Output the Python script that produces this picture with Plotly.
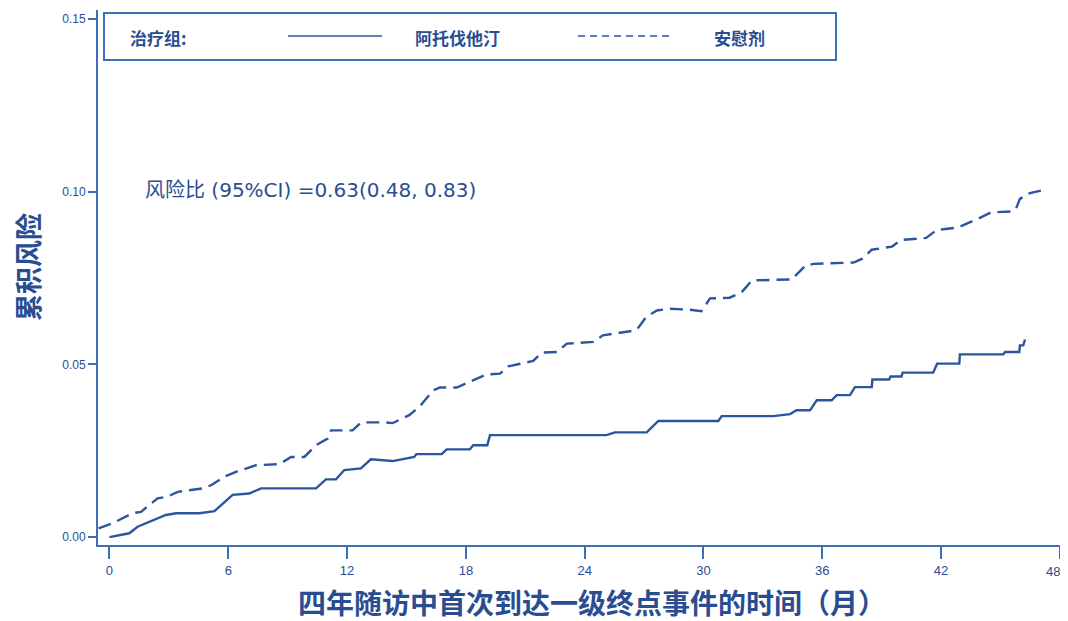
import plotly.graph_objects as go

# ---------------- data ----------------
atorva_months = [0.0, 1.0, 1.42, 2.0, 2.85, 3.36, 4.54, 5.3, 6.22, 7.06, 7.65, 10.43, 10.93,
                 11.44, 11.86, 12.7, 13.2, 14.3, 15.39, 15.5, 16.78, 17.03, 18.2, 18.37, 19.08,
                 19.22, 25.1, 25.53, 27.13, 27.72, 30.75, 30.92, 33.53, 34.37, 34.7, 35.38,
                 35.72, 36.47, 36.73, 37.4, 37.65, 38.5, 38.53, 39.38, 39.45, 40.0, 40.06,
                 41.6, 41.8, 42.92, 42.95, 45.14, 45.23, 45.95, 45.98, 46.15, 46.24]
atorva_risk = [0.0, 0.0011, 0.0030, 0.0044, 0.0064, 0.0069, 0.0069, 0.0075, 0.0122, 0.0126,
               0.0141, 0.0141, 0.0167, 0.0167, 0.0194, 0.0199, 0.0225, 0.0220, 0.0232, 0.0240,
               0.0240, 0.0254, 0.0254, 0.0266, 0.0266, 0.0295, 0.0295, 0.0303, 0.0303, 0.0336,
               0.0336, 0.0350, 0.0350, 0.0356, 0.0367, 0.0367, 0.0396, 0.0396, 0.0411, 0.0411,
               0.0434, 0.0434, 0.0456, 0.0456, 0.0465, 0.0465, 0.0476, 0.0476, 0.0502, 0.0502,
               0.0529, 0.0529, 0.0536, 0.0536, 0.0555, 0.0555, 0.0572]

placebo_months = [-0.55, 0.16, 1.17, 1.59, 2.43, 2.94, 3.44, 4.71, 5.13, 5.8, 6.39, 7.4, 8.58,
                  9.17, 9.84, 10.43, 11.02, 11.19, 12.28, 12.7, 13.96, 14.3, 15.14, 15.68,
                  16.35, 16.69, 17.54, 18.21, 19.05, 19.72, 20.14, 21.4, 21.83, 22.6, 23.1,
                  24.42, 24.92, 26.54, 26.74, 27.1, 27.65, 28.31, 29.32, 29.9, 30.33, 31.32,
                  31.93, 32.45, 34.47, 35.13, 35.55, 37.58, 38.02, 38.5, 39.52, 39.97, 41.25,
                  41.77, 42.85, 43.96, 44.52, 45.58, 45.78, 45.98, 46.49, 47.04]
placebo_risk = [0.0025, 0.0040, 0.0069, 0.0073, 0.0112, 0.0117, 0.0131, 0.0141, 0.0150,
                0.0175, 0.0189, 0.0208, 0.0211, 0.0232, 0.0232, 0.0266, 0.0285, 0.0309,
                0.0309, 0.0332, 0.0332, 0.0330, 0.0353, 0.0379, 0.0425, 0.0433, 0.0433,
                0.0449, 0.0471, 0.0473, 0.0494, 0.0510, 0.0534, 0.0536, 0.0560, 0.0565,
                0.0584, 0.0598, 0.0608, 0.0637, 0.0656, 0.0661, 0.0658, 0.0654, 0.0691,
                0.0693, 0.0709, 0.0743, 0.0746, 0.0785, 0.0791, 0.0795, 0.0806, 0.0832,
                0.0841, 0.0860, 0.0866, 0.0889, 0.0896, 0.0924, 0.0940, 0.0943, 0.0950,
                0.0979, 0.0996, 0.1003]

x_ticks = [0, 6, 12, 18, 24, 30, 36, 42, 48]
x_tick_text = ["0", "6", "12", "18", "24", "30", "36", "42", "48"]
y_ticks = [0.00, 0.05, 0.10, 0.15]
y_tick_text = ["0.00", "0.05", "0.10", "0.15"]

legend_title = "治疗组:"
name_atorva = "阿托伐他汀"
name_placebo = "安慰剂"
hr_text = "风险比 (95%CI) =0.63(0.48, 0.83)"
x_title = "四年随访中首次到达一级终点事件的时间（月）"
y_title = "累积风险"

# ---------------- styling ----------------
OFF = 8                      # page body margin of the html page
W, H = 1068 - OFF, 621 - OFF
# plot area in page pixels: left 98, right 1068, top 10, bottom 545
PL, PR, PT, PB = 98, 1068, 10, 545
L, R, T, B = PL - OFF, 1068 - PR, PT - OFF, 621 - PB
PW, PH = PR - PL, PB - PT

LINE = "#2c55a0"
AXIS = "#3d6db4"
TXT = "#2a4d91"
CJK = "Noto Sans CJK SC"
NARROW = "Liberation Sans Narrow, Liberation Sans, Arial"
TICKFONT = dict(family=NARROW, size=13, color=TXT)


def px(xp):
    """page x pixel -> paper coordinate"""
    return (xp - PL) / PW


def py(yp):
    """page y pixel -> paper coordinate"""
    return (PB - yp) / PH


fig = go.Figure()
fig.add_trace(go.Scatter(x=atorva_months, y=atorva_risk, mode="lines", name=name_atorva,
                         line=dict(color=LINE, width=2.4)))
fig.add_trace(go.Scatter(x=placebo_months, y=placebo_risk, mode="lines", name=name_placebo,
                         line=dict(color=LINE, width=2.4, dash="13px,7px")))

shapes = [
    # legend box
    dict(type="rect", xref="paper", yref="paper", x0=px(104), x1=px(836), y0=py(60), y1=py(13),
         line=dict(color=AXIS, width=2), fillcolor="rgba(0,0,0,0)"),
    dict(type="line", xref="paper", yref="paper", x0=px(288), x1=px(382), y0=py(36), y1=py(36),
         line=dict(color=LINE, width=1.6)),
    dict(type="line", xref="paper", yref="paper", x0=px(578), x1=px(674), y0=py(36), y1=py(36),
         line=dict(color=LINE, width=1.6, dash="7px,5px")),
]

annotations = [
    dict(text="<b>" + legend_title + "</b>", x=px(128), y=py(37), xanchor="left", yanchor="middle"),
    dict(text="<b>" + name_atorva + "</b>", x=px(413), y=py(37), xanchor="left", yanchor="middle"),
    dict(text="<b>" + name_placebo + "</b>", x=px(712), y=py(37), xanchor="left", yanchor="middle"),
]
for a in annotations:
    a.update(xref="paper", yref="paper", showarrow=False, font=dict(family=CJK, size=17, color=TXT))

annotations += [
    dict(text=hr_text, xref="paper", yref="paper", x=px(143), y=py(190), xanchor="left",
         yanchor="middle", showarrow=False,
         font=dict(family="DejaVu Sans, " + CJK, size=20, color=TXT)),
    dict(text="<b>" + x_title + "</b>", xref="paper", yref="paper", x=px(592), y=py(602),
         xanchor="center", yanchor="middle", showarrow=False,
         font=dict(family=CJK, size=28, color=TXT)),
    dict(text="<b>" + y_title + "</b>", xref="paper", yref="paper", x=px(27), y=py(267),
         xanchor="center", yanchor="middle", textangle=-90, showarrow=False,
         font=dict(family=CJK, size=27, color=TXT)),
    # last x tick label sits at the right edge of the page; nudge it inwards
    dict(text=x_tick_text[-1], xref="x", yref="paper", x=x_ticks[-1], y=py(571), xshift=-7,
         xanchor="center", yanchor="middle", showarrow=False, font=TICKFONT),
]

fig.update_layout(
    width=W, height=H,
    margin=dict(l=L, r=R, t=T, b=B, autoexpand=False),
    paper_bgcolor="white", plot_bgcolor="white",
    showlegend=False,
    shapes=shapes, annotations=annotations,
    xaxis=dict(range=[-0.58, 48.41], tickvals=x_ticks, ticktext=x_tick_text[:-1] + [""],
               ticks="outside", ticklen=12,
               tickwidth=1.5, tickcolor=AXIS, showline=True, linecolor=AXIS, linewidth=2,
               showgrid=False, zeroline=False, tickfont=TICKFONT),
    yaxis=dict(range=[-0.0023, 0.1526], tickvals=y_ticks, ticktext=y_tick_text, ticks="outside",
               ticklen=8, tickwidth=1.5, tickcolor=AXIS, showline=True, linecolor=AXIS,
               linewidth=2, showgrid=False, zeroline=False,
               tickfont=dict(family=NARROW, size=12, color=TXT)),
)

fig.write_html("out.html")
